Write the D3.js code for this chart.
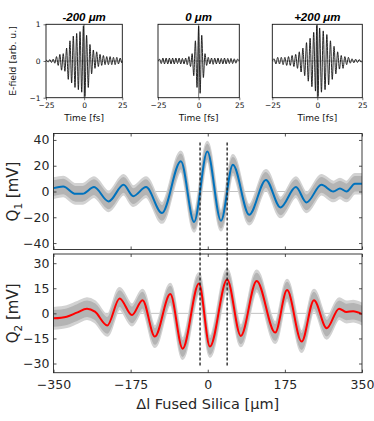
<!DOCTYPE html>
<html>
<head>
<meta charset="utf-8">
<script src="https://cdn.jsdelivr.net/npm/d3@7"></script>
<style>
  body { margin: 0; background: #fff; }
  svg { display: block; font-family: "DejaVu Sans", sans-serif; }
</style>
</head>
<body>
<div id="chart"></div>
<script>
// ---- data ----
// top row: E-field pulses, extrema (time in fs, field in arb. u.)
const pulseTitles = ["-200 \u03bcm", "0 \u03bcm", "+200 \u03bcm"];

const pulseTimesA = [-25, -24.7, -23.6, -22.5, -21.4, -20.3, -19.2, -18.1, -17.0, -15.9, -14.8, -13.7, -12.6, -11.5, -10.4, -9.3, -8.2, -7.1, -6.0, -4.9, -3.8, -2.7, -1.6, -0.5, 0.5, 1.6, 2.7, 3.8, 4.9, 6.0, 7.1, 8.2, 9.3, 10.4, 11.5, 12.6, 13.7, 14.8, 15.9, 17.0, 18.1, 19.2, 20.3, 21.4, 22.5, 23.6, 24.7, 25];
const pulseValsA  = [0, 0.02, -0.03, 0.04, -0.04, 0.05, -0.06, 0.12, -0.12, 0.18, -0.25, 0.2, -0.28, 0.35, -0.5, 0.55, -0.6, 0.68, -0.72, 0.75, -0.78, 0.8, -0.85, 0.96, -0.97, 0.7, -0.72, 0.45, -0.35, 0.3, -0.2, 0.25, -0.15, 0.18, -0.12, 0.15, -0.1, 0.12, -0.1, 0.12, -0.1, 0.1, -0.1, 0.1, -0.08, 0.08, -0.05, 0];

const pulseTimesB = [-25, -24, -23, -22, -21, -20, -19, -18, -17, -16, -15, -14, -13, -12, -11, -10, -9, -8, -7, -6, -5, -4, -3, -2, -1, 0, 0.9, 1.9, 2.9, 3.9, 4.9, 5.9, 6.9, 7.9, 8.9, 9.9, 10.9, 11.9, 12.9, 13.9, 14.9, 15.9, 16.9, 17.9, 18.9, 19.9, 20.9, 21.9, 22.9, 23.9, 25];
const pulseValsB  = [0, 0.05, -0.07, 0.08, -0.08, 0.08, -0.08, 0.08, -0.08, 0.08, -0.08, 0.08, -0.07, 0.08, -0.08, 0.07, -0.08, 0.08, -0.1, 0.12, -0.15, 0.2, -0.4, 0.55, -0.72, 0.95, -0.88, 0.7, -0.45, 0.2, -0.12, 0.1, -0.08, 0.08, -0.09, 0.08, -0.08, 0.08, -0.08, 0.07, -0.08, 0.08, -0.08, 0.07, -0.07, 0.07, -0.07, 0.06, -0.06, 0.05, 0];

const pulseTimesC = [-25, -24, -23, -22, -21, -20, -19, -18, -17, -16, -15, -14, -13, -12, -11, -10, -9, -8, -7, -6, -5, -4, -3, -2, -1, -0.3, 0.4, 1.3, 2.3, 3.3, 4.3, 5.3, 6.3, 7.3, 8.3, 9.3, 10.3, 11.3, 12.3, 13.3, 14.3, 15.3, 16.3, 17.3, 18.3, 19.3, 20.3, 21.3, 22.3, 23.3, 24.3, 25];
const pulseValsC  = [0, 0.06, -0.08, 0.1, -0.08, 0.1, -0.1, 0.1, -0.12, 0.12, -0.12, 0.15, -0.15, 0.18, -0.2, 0.25, -0.3, 0.35, -0.4, 0.5, -0.55, 0.62, -0.7, 0.78, -0.82, 0.97, -0.97, 0.9, -0.85, 0.82, -0.78, 0.72, -0.65, 0.55, -0.5, 0.4, -0.35, 0.25, -0.22, 0.15, -0.2, 0.12, -0.1, 0.1, -0.06, 0.06, -0.05, 0.05, -0.04, 0.04, -0.03, 0];

// bottom: smoothed signals vs. fused silica thickness (um, mV)
const q1Pos = [-350, -328, -300, -284, -258, -225, -191, -169, -140, -104, -61, -31, -1, 30, 57, 94, 132, 165, 200, 224, 258, 285, 300, 315, 334, 350];
const q1Val = [2.6, 3.9, -1.8, -1.8, 3.4, -7.7, 5.2, -3.6, 3.4, -16.7, 23.4, -23.6, 31, -22.7, 20.7, -18, 9, -12.4, 3.4, -8.5, 5.2, 0, 2.3, 0, 6, 6];

const q2Pos = [-350, -320, -297, -274, -256, -228, -200, -172, -148, -120, -85, -57, -20, 5, 44, 75, 111, 153, 180, 213, 241, 270, 298, 315, 330, 350];
const q2Val = [-3, -2, 0.4, 2.8, 1, -7.2, 8.9, -1, 7.9, -13.9, 11.5, -21.1, 17.9, -19.9, 20.3, -13.5, 19.4, -11.5, 13.9, -16.9, 7.9, -8.9, 2.8, 0.8, 1.3, -0.4];

// spread of the raw measured points around the smooth curve (mV)
const q1Spread = 5.5;
const q2Spread = 4.5;

const xTicks = [-350, -175, 0, 175, 350];
const q1Ticks = [-40, -20, 0, 20, 40];
const q2Ticks = [-30, -15, 0, 15, 30];
const markerPos = [-17.5, 44];

// ---- drawing ----
const width = 374, height = 421;
const svg = d3.select("#chart").append("svg")
    .attr("width", width)
    .attr("height", height);

const defs = svg.append("defs");

// top row panels
const pulses = [
    { times: pulseTimesA, vals: pulseValsA, x0: 46, x1: 122.3 },
    { times: pulseTimesB, vals: pulseValsB, x0: 158, x1: 239.3 },
    { times: pulseTimesC, vals: pulseValsC, x0: 272.3, x1: 362.3 }
];
const pTop = 24.3, pBot = 97.7;
const py = d3.scaleLinear().domain([-1, 1]).range([pBot, pTop]);

pulses.forEach((p, i) => {
    const px = d3.scaleLinear().domain([-25, 25]).range([p.x0, p.x1]);
    const g = svg.append("g");
    const cid = "pclip" + i;
    defs.append("clipPath").attr("id", cid)
        .append("rect").attr("x", p.x0).attr("y", pTop)
        .attr("width", p.x1 - p.x0).attr("height", pBot - pTop);

    // zero cross lines
    g.append("line").attr("x1", p.x0).attr("x2", p.x1)
        .attr("y1", py(0)).attr("y2", py(0))
        .attr("stroke", "#777").attr("stroke-width", 0.6);
    g.append("line").attr("x1", px(0)).attr("x2", px(0))
        .attr("y1", pTop).attr("y2", pBot)
        .attr("stroke", "#444").attr("stroke-width", 0.7);

    const pts = p.times.map((t, k) => [t, p.vals[k]]);
    g.append("path")
        .attr("clip-path", `url(#${cid})`)
        .attr("d", d3.line().x(d => px(d[0])).y(d => py(d[1])).curve(d3.curveMonotoneX)(pts))
        .attr("fill", "none")
        .attr("stroke", "#111")
        .attr("stroke-width", 0.9);

    g.append("rect").attr("x", p.x0).attr("y", pTop)
        .attr("width", p.x1 - p.x0).attr("height", pBot - pTop)
        .attr("fill", "none").attr("stroke", "#111").attr("stroke-width", 0.9);

    const xa = g.append("g").attr("transform", `translate(0,${pBot})`)
        .call(d3.axisBottom(px).tickValues([-25, 0, 25]).tickSize(2.5).tickPadding(2)
            .tickFormat(d => d < 0 ? "\u2212" + Math.abs(d) : d));
    xa.select(".domain").remove();
    xa.selectAll("text").attr("font-size", 7.5).attr("fill", "#111")
        .attr("font-family", "DejaVu Sans, sans-serif");
    xa.selectAll("line").attr("stroke", "#111").attr("stroke-width", 0.6);

    if (i === 0) {
        const ya = g.append("g").attr("transform", `translate(${p.x0},0)`)
            .call(d3.axisLeft(py).tickValues([-1, 0, 1]).tickSize(2.5).tickPadding(3)
                .tickFormat(d => d < 0 ? "\u2212" + Math.abs(d) : d));
        ya.select(".domain").remove();
        ya.selectAll("text").attr("font-size", 7.5).attr("fill", "#111")
            .attr("font-family", "DejaVu Sans, sans-serif");
        ya.selectAll("line").attr("stroke", "#111").attr("stroke-width", 0.6);
    }

    g.append("text")
        .attr("x", (p.x0 + p.x1) / 2).attr("y", 21)
        .attr("text-anchor", "middle")
        .attr("font-family", "Liberation Sans, Arial, sans-serif")
        .attr("font-weight", "bold").attr("font-style", "italic")
        .attr("font-size", 11.5)
        .text(pulseTitles[i]);

    g.append("text")
        .attr("x", (p.x0 + p.x1) / 2).attr("y", 120.5)
        .attr("text-anchor", "middle")
        .attr("font-size", 9).attr("fill", "#111")
        .text("Time [fs]");
});

svg.append("text")
    .attr("transform", `translate(16,${(pTop + pBot) / 2}) rotate(-90)`)
    .attr("text-anchor", "middle")
    .attr("font-size", 9.3).attr("fill", "#111")
    .text("E-field [arb. u.]");

// bottom panels
const left = 53.5, right = 362;
const x = d3.scaleLinear().domain([-350, 350]).range([left, right]);
const panels = [
    { pos: q1Pos, val: q1Val, spread: q1Spread,
      y: d3.scaleLinear().domain([-45, 45]).range([249.5, 133.5]),
      ticks: q1Ticks, color: "#0072BD", sub: "1" },
    { pos: q2Pos, val: q2Val, spread: q2Spread,
      y: d3.scaleLinear().domain([-35.5, 35.5]).range([372.7, 254]),
      ticks: q2Ticks, color: "#FF0000", sub: "2" }
];
const axisColor = "#262626";

panels.forEach((p, i) => {
    const [yb, yt] = p.y.range();
    const g = svg.append("g");
    const cid = "qclip" + i;
    defs.append("clipPath").attr("id", cid)
        .append("rect").attr("x", left).attr("y", yt)
        .attr("width", right - left).attr("height", yb - yt);

    const body = g.append("g").attr("clip-path", `url(#${cid})`);
    body.append("line").attr("x1", left).attr("x2", right)
        .attr("y1", p.y(0)).attr("y2", p.y(0))
        .attr("stroke", "#c2c2c2").attr("stroke-width", 1);

    const pts = p.pos.map((d, k) => [d, p.val[k]]);
    // grey band of the raw points: vertical spread around the smooth curve
    const band = s => d3.area()
        .x(d => x(d[0]))
        .y0(d => p.y(d[1] - s))
        .y1(d => p.y(d[1] + s))
        .curve(d3.curveMonotoneX);
    body.append("path").attr("d", band(p.spread * 1.35)(pts))
        .attr("fill", "#d2d2d2")
        .attr("stroke", "#d2d2d2").attr("stroke-width", 2.5);
    body.append("path").attr("d", band(p.spread)(pts))
        .attr("fill", "#b4b4b4")
        .attr("stroke", "#b4b4b4").attr("stroke-width", 1.5);

    const line = d3.line().x(d => x(d[0])).y(d => p.y(d[1])).curve(d3.curveMonotoneX);
    body.append("path").attr("d", line(pts))
        .attr("fill", "none").attr("stroke", p.color).attr("stroke-width", 2);

    // axes (ticks inside, box)
    const ya = g.append("g").attr("transform", `translate(${left},0)`)
        .call(d3.axisLeft(p.y).tickValues(p.ticks).tickSize(-3).tickPadding(4));
    ya.selectAll("text").attr("font-size", 12.5);
    const yr = g.append("g").attr("transform", `translate(${right},0)`)
        .call(d3.axisRight(p.y).tickValues(p.ticks).tickSize(-3).tickFormat(""));
    const xt = g.append("g").attr("transform", `translate(0,${yt})`)
        .call(d3.axisTop(x).tickValues(xTicks).tickSize(-3).tickFormat(""));
    const xb = g.append("g").attr("transform", `translate(0,${yb})`)
        .call(d3.axisBottom(x).tickValues(xTicks).tickSize(-3).tickPadding(7)
            .tickFormat(i === 1 ? d3.format("d") : ""));
    xb.selectAll("text").attr("font-size", 12.5);
    [ya, yr, xt, xb].forEach(a => {
        a.select(".domain").remove();
        a.selectAll("line").attr("stroke", axisColor).attr("stroke-width", 0.8);
        a.selectAll("text").attr("fill", axisColor).attr("font-family", "DejaVu Sans, sans-serif");
    });
    g.append("rect").attr("x", left).attr("y", yt)
        .attr("width", right - left).attr("height", yb - yt)
        .attr("fill", "none").attr("stroke", axisColor).attr("stroke-width", 0.9);

    const lab = g.append("text")
        .attr("transform", `translate(17.5,${(yt + yb) / 2}) rotate(-90)`)
        .attr("text-anchor", "middle")
        .attr("font-size", 15).attr("fill", axisColor);
    lab.append("tspan").text("Q");
    lab.append("tspan").attr("font-size", 10.5).attr("dy", 4).text(p.sub);
    lab.append("tspan").attr("dy", -4).text(" [mV]");
});

// dashed markers spanning both panels
svg.append("g").selectAll("line")
    .data(markerPos)
    .join("line")
    .attr("x1", d => x(d)).attr("x2", d => x(d))
    .attr("y1", panels[0].y(38)).attr("y2", panels[1].y(-32))
    .attr("stroke", "#1a1a1a").attr("stroke-width", 1.3)
    .attr("stroke-dasharray", "3,2");

svg.append("text")
    .attr("x", (left + right) / 2).attr("y", 409)
    .attr("text-anchor", "middle")
    .attr("font-size", 14.5).attr("fill", axisColor)
    .text("\u0394l Fused Silica [\u03bcm]");
</script>
</body>
</html>
